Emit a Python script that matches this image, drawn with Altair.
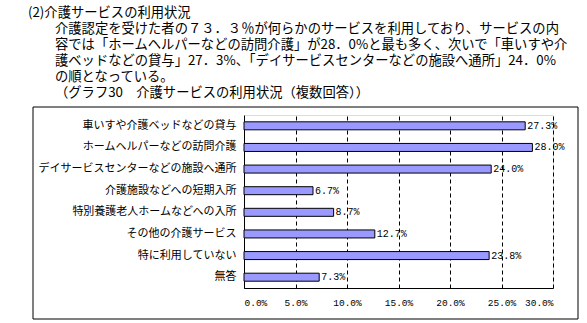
import altair as alt
import pandas as pd

categories = [
    "車いすや介護ベッドなどの貸与",
    "ホームヘルパーなどの訪問介護",
    "デイサービスセンターなどの施設へ通所",
    "介護施設などへの短期入所",
    "特別養護老人ホームなどへの入所",
    "その他の介護サービス",
    "特に利用していない",
    "無答",
]
values = [27.3, 28.0, 24.0, 6.7, 8.7, 12.7, 23.8, 7.3]
x_ticks = [0, 5, 10, 15, 20, 25, 30]

heading = "(2)介護サービスの利用状況"
body_lines = [
    "　介護認定を受けた者の７３．３％が何らかのサービスを利用しており、サービスの内",
    "容では「ホームヘルパーなどの訪問介護」が28．0%と最も多く、次いで「車いすや介",
    "護ベッドなどの貸与」27．3%、「デイサービスセンターなどの施設へ通所」24．0%",
    "の順となっている。",
    "（グラフ30　介護サービスの利用状況（複数回答））",
]

df = pd.DataFrame({"category": categories, "value": values})
df["label"] = df["value"].map(lambda v: f"{v:.1f}%")
one = pd.DataFrame({"k": [0]})

JP = "Noto Sans CJK JP"
MONO = "Liberation Mono"

W, H = 309, 173
LEFT, TOP = 244, 115

base = alt.Chart(df)

# outer frame (stroke only)
frame = alt.Chart(one).mark_rect(fill="white", fillOpacity=0, stroke="black", strokeWidth=1, clip=False).encode(
    x=alt.value(33 - LEFT), x2=alt.value(578 - LEFT),
    y=alt.value(107 - TOP), y2=alt.value(319 - TOP),
)

xscale = alt.Scale(domain=[0, 30], nice=False)
yscale = alt.Scale(domain=categories, paddingInner=0, paddingOuter=0)

bars = base.mark_bar(size=8, color="#9999FF", stroke="black", strokeWidth=1).encode(
    x=alt.X(
        "value:Q",
        scale=xscale,
        axis=alt.Axis(
            values=x_ticks,
            labelExpr="format(datum.value, '.1f') + '%'",
            title=None,
            grid=True,
            gridColor="black",
            gridDash=[4, 3],
            gridWidth=1,
            domainColor="black",
            ticks=False,
            labelFont=MONO,
            labelFontSize=9.5,
            labelColor="black",
            labelPadding=9,
        ),
    ),
    y=alt.Y(
        "category:N",
        sort=categories,
        scale=yscale,
        axis=alt.Axis(
            title=None,
            domainColor="black",
            ticks=False,
            labelFont=JP,
            labelFontSize=11,
            labelColor="black",
            labelPadding=8,
            labelLimit=0,
            grid=False,
        ),
    ),
)

labels = base.mark_text(align="left", baseline="middle", dx=2, font=MONO, fontSize=10, color="black").encode(
    x=alt.X("value:Q", scale=xscale),
    y=alt.Y("category:N", sort=categories, scale=yscale),
    text="label:N",
)

head = alt.Chart(one).mark_text(
    align="left", baseline="alphabetic", font=JP, fontSize=13.3, color="black", clip=False, text=heading
).encode(x=alt.value(28 - LEFT), y=alt.value(17 - TOP))

body = alt.Chart(one).mark_text(
    align="left", baseline="alphabetic", font=JP, fontSize=13.3, lineHeight=16,
    color="black", clip=False, text=body_lines,
).encode(x=alt.value(55 - LEFT), y=alt.value(33 - TOP))

chart = alt.layer(frame, bars, labels, head, body).properties(
    width=W,
    height=H,
    padding={"left": LEFT, "top": TOP, "right": 587 - LEFT - W, "bottom": 323 - TOP - H},
    autosize=alt.AutoSizeParams(type="none"),
).configure_view(fill="#C0C0C0", stroke="#808080", strokeWidth=1).configure(background="white")

chart.save("out.html", embed_options={"renderer": "svg", "actions": False})
